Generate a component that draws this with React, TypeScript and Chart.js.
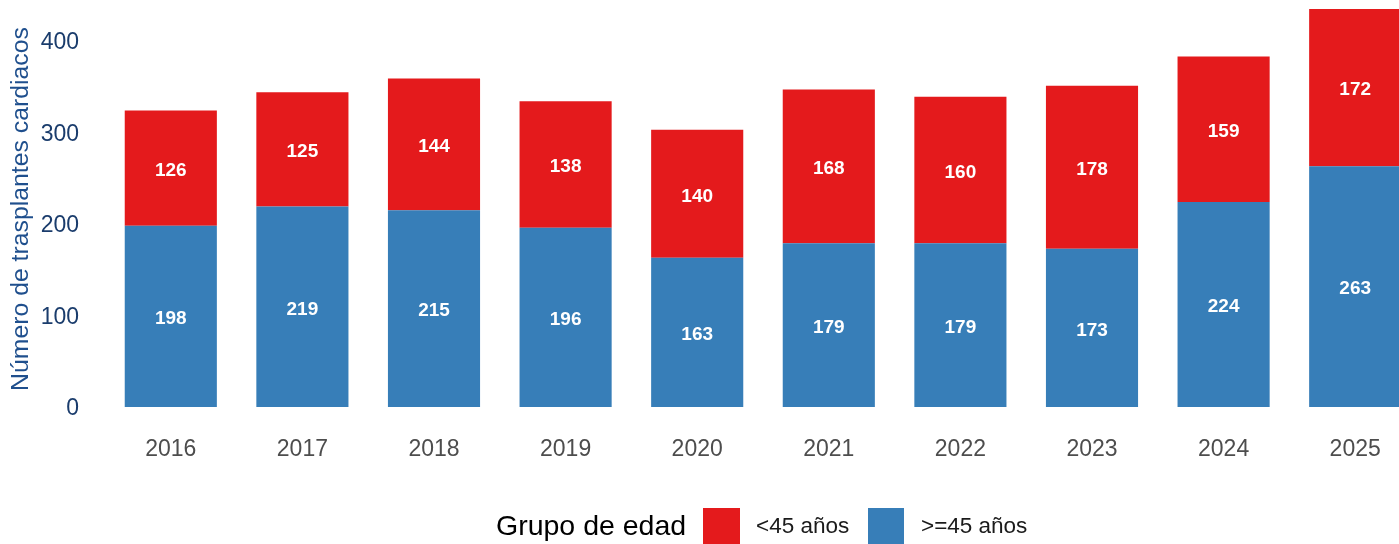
import React, { useEffect, useRef } from "react";
import { Chart, registerables } from "chart.js";

Chart.register(...registerables);

const years = ["2016", "2017", "2018", "2019", "2020", "2021", "2022", "2023", "2024", "2025"];
const olderValues = [198, 219, 215, 196, 163, 179, 179, 173, 224, 263];
const youngerValues = [126, 125, 144, 138, 140, 168, 160, 178, 159, 172];
const yTicks = [0, 100, 200, 300, 400];
const seriesNames = ["<45 años", ">=45 años"];
const legendTitle = "Grupo de edad";
const yTitle = "Número de trasplantes cardiacos";

const RED = "#E41A1C";
const BLUE = "#377EB8";
const FONT = "'Liberation Sans', Arial, Helvetica, sans-serif";

const PAD_TOP = 30;
const CANVAS_TOP = 40;
const CANVAS_H = 584;

const labelPlugin = {
  id: "segLabels",
  afterDatasetsDraw(chart: any) {
    const ctx = chart.ctx;
    ctx.save();
    ctx.fillStyle = "#ffffff";
    ctx.font = `bold 19px ${FONT}`;
    ctx.textAlign = "center";
    ctx.textBaseline = "middle";
    chart.data.datasets.forEach((ds: any, di: number) => {
      const meta = chart.getDatasetMeta(di);
      meta.data.forEach((el: any, i: number) => {
        const y = (el.y + el.base) / 2;
        ctx.fillText(String(ds.data[i]), el.x, y + 2.5);
      });
    });
    ctx.restore();
  },
  afterDraw(chart: any) {
    const ctx = chart.ctx;
    ctx.save();
    ctx.fillStyle = "#1f4f8d";
    ctx.font = `24.8px ${FONT}`;
    ctx.textAlign = "center";
    ctx.textBaseline = "middle";
    ctx.translate(21, 209 + CANVAS_TOP);
    ctx.rotate(-Math.PI / 2);
    ctx.fillText(yTitle, 0, 0);
    ctx.restore();
  },
};

export default function App() {
  const ref = useRef<HTMLCanvasElement | null>(null);

  useEffect(() => {
    document.body.style.margin = "0";
    if (!ref.current) return;
    const chart = new Chart(ref.current, {
      type: "bar",
      data: {
        labels: years,
        datasets: [
          {
            label: seriesNames[1],
            data: olderValues,
            backgroundColor: BLUE,
            borderWidth: 0,
            stack: "s",
          },
          {
            label: seriesNames[0],
            data: youngerValues,
            backgroundColor: RED,
            borderWidth: 0,
            stack: "s",
          },
        ],
      },
      options: {
        responsive: false,
        animation: false,
        devicePixelRatio: 1,
        layout: { padding: { top: PAD_TOP, left: 0, right: 0, bottom: 77 } },
        plugins: {
          legend: { display: false },
          tooltip: { enabled: false },
        },
        scales: {
          x: {
            stacked: true,
            grid: { display: false, drawTicks: false },
            border: { display: false },
            ticks: {
              color: "#4d4d4d",
              font: { family: FONT, size: 23 },
              padding: 29,
            },
            afterFit: (s: any) => {
              s.height = 60;
            },
          } as any,
          y: {
            stacked: true,
            min: 0,
            max: 445,
            grid: { display: false, drawTicks: false },
            border: { display: false },
            ticks: {
              color: "#1a3c6c",
              font: { family: FONT, size: 23 },
              padding: 26,
              labelOffset: 2,
            },
            afterBuildTicks: (s: any) => {
              s.ticks = yTicks.map((v) => ({ value: v }));
            },
            afterFit: (s: any) => {
              s.width = 105;
            },
          } as any,
        },
        datasets: { bar: { categoryPercentage: 1, barPercentage: 0.7 } } as any,
      },
      plugins: [labelPlugin],
    });
    return () => chart.destroy();
  }, []);

  const legendText: React.CSSProperties = {
    position: "absolute",
    fontFamily: FONT,
    color: "#1a1a1a",
    lineHeight: "36px",
    top: 508,
    whiteSpace: "nowrap",
  };

  return (
    <div
      style={{
        position: "fixed",
        left: 0,
        top: 0,
        width: 1399,
        height: 544,
        overflow: "hidden",
        background: "#ffffff",
      }}
    >
      <canvas
        ref={ref}
        width={1421}
        height={CANVAS_H}
        style={{ position: "absolute", left: 0, top: -CANVAS_TOP, width: 1421, height: CANVAS_H }}
      />
      <span style={{ ...legendText, left: 496, fontSize: 28.5, color: "#000000", top: 507 }}>{legendTitle}</span>
      <div style={{ position: "absolute", left: 703, top: 508, width: 37, height: 37, background: RED }} />
      <span style={{ ...legendText, left: 756, fontSize: 22.5 }}>{seriesNames[0]}</span>
      <div style={{ position: "absolute", left: 868, top: 508, width: 36, height: 37, background: BLUE }} />
      <span style={{ ...legendText, left: 921, fontSize: 22.5 }}>{seriesNames[1]}</span>
    </div>
  );
}
